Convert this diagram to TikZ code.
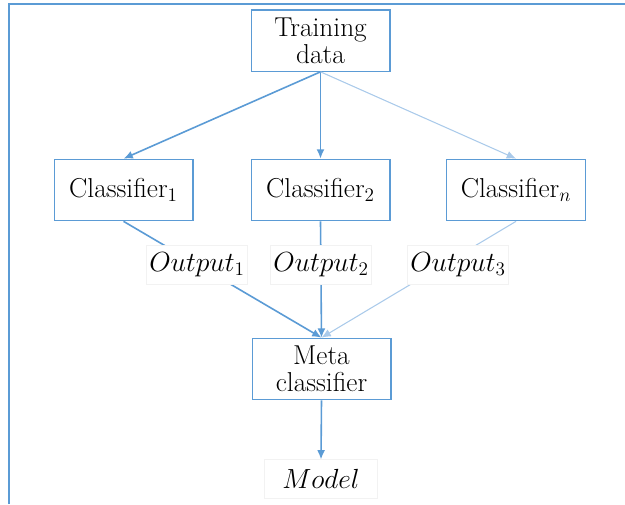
\documentclass[tikz,border=0pt]{standalone}
\usepackage{tikz}
\usetikzlibrary{arrows.meta,positioning}
\definecolor{lineblue}{RGB}{91,155,213}
\definecolor{paleblue}{RGB}{170,202,234}

\begin{document}
\begin{tikzpicture}[
  x=0.75pt,y=-0.75pt,
  >={Latex[length=7pt,width=6pt]},
  box/.style={draw=lineblue,line width=1pt,align=center,minimum width=104pt,minimum height=46pt,inner sep=2pt,font=\fontsize{20.5}{20.5}\selectfont},
  lbl/.style={fill=white,draw=black!5,line width=0.4pt,font=\fontsize{20.5}{21}\selectfont,minimum height=29pt,inner sep=2pt},
  link/.style={lineblue,line width=1.2pt},
  faint/.style={paleblue,line width=0.8pt}
]
  \useasboundingbox (0,0) rectangle (625,504);
  \draw[lineblue,line width=1.5pt] (9,504) -- (9,4) -- (625,4);

  \node[box] (train) at (320.5,40.5) {Training\\data};

  \node[box] (clf1) at (123.5,190) {Classifier$_1$};
  \node[box] (clf2) at (320.5,190) {Classifier$_2$};
  \node[box] (clfn) at (516,190)   {Classifier$_n$};

  \draw[link,->](train.south)--(clf1.north); \draw[link,->](train.south)--(clf2.north);
  \draw[faint,->](train.south)--(clfn.north);

  \node[box] (meta) at (321.5,369) {Meta\\classifier};

  \draw[link,->](clf1.south)--(meta.north); \draw[link,->](clf2.south)--(meta.north);
  \draw[faint,->](clfn.south)--(meta.north);

  \node[lbl] (out1) at (197,265) {$Output_1$};
  \node[lbl] (out2) at (321,265) {$Output_2$};
  \node[lbl] (out3) at (458,265) {$Output_3$};

  \node[lbl,minimum width=85pt] (model) at (321,479) {$Model$};
  \draw[link,->](meta.south)--(model.north);
\end{tikzpicture}
\end{document}
